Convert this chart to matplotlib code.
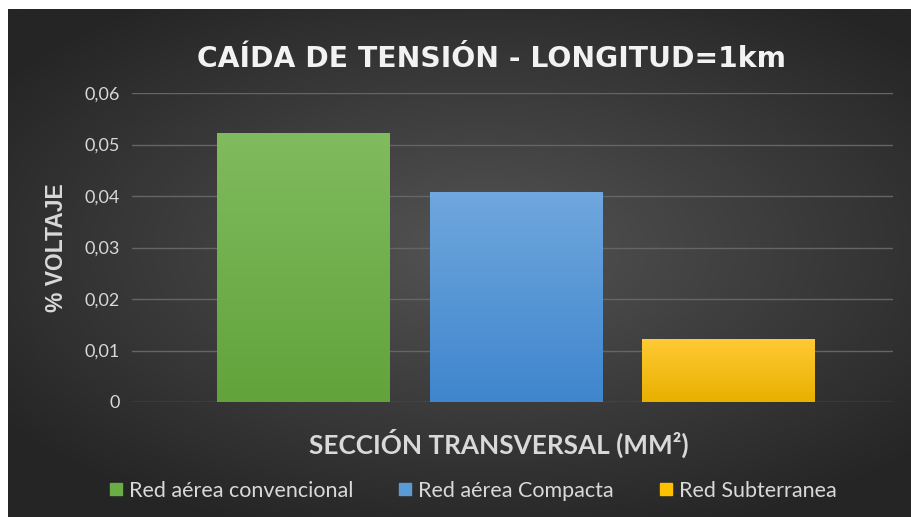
import numpy as np
import matplotlib
matplotlib.use("Agg")
import matplotlib.pyplot as plt
from matplotlib.lines import Line2D

series = ["Red aérea convencional", "Red aérea Compacta", "Red Subterranea"]
values = [0.0521, 0.0406, 0.0121]
yticks = [0, 0.01, 0.02, 0.03, 0.04, 0.05, 0.06]
ytick_labels = ["0", "0,01", "0,02", "0,03", "0,04", "0,05", "0,06"]
top_colors = ["#80bb5e", "#6fa7de", "#ffca33"]
bottom_colors = ["#62a33b", "#3f86cd", "#e9b000"]
legend_colors = ["#6aad45", "#5b9bd5", "#ffc000"]

calibri = ["Lato", "DejaVu Sans"]
txt = "#d9d9d9"

fig = plt.figure(figsize=(9.12, 5.17), dpi=100, facecolor="white")

# dark radial background
bg = fig.add_axes([8 / 912, 0, 904 / 912, 508 / 517])
bg.axis("off")
yy, xx = np.mgrid[-1:1:300j, -1:1:500j]
r = np.sqrt(((xx - 0.05) * 0.95) ** 2 + ((yy + 0.05) * 1.05) ** 2)
r = np.clip(r / 1.25, 0, 1)
c0, c1 = np.array([0x54, 0x54, 0x54]) / 255, np.array([0x25, 0x25, 0x25]) / 255
img = c0[None, None, :] * (1 - r[..., None]) + c1[None, None, :] * r[..., None]
bg.imshow(img, aspect="auto", extent=[0, 1, 0, 1])
bg.set_xlim(0, 1)
bg.set_ylim(0, 1)

ax = fig.add_axes([132 / 912, 1 - 402 / 517, 761 / 912, 309 / 517])
ax.patch.set_alpha(0)
x = np.arange(len(series)) - 1
width = 0.81

for i, v in enumerate(values):
    ct = np.array(matplotlib.colors.to_rgb(top_colors[i]))
    cb = np.array(matplotlib.colors.to_rgb(bottom_colors[i]))
    t = np.linspace(0, 1, 100)[:, None]
    grad = (ct * (1 - t) + cb * t)[:, None, :]
    ax.imshow(grad, aspect="auto", zorder=3,
              extent=[x[i] - width / 2, x[i] + width / 2, 0, v])

ax.set_xlim(-1.807, 1.774)
ax.set_ylim(0, 0.06)
ax.set_yticks(yticks)
ax.set_yticklabels(ytick_labels, family=calibri, fontsize=13, color=txt)
ax.set_xticks([])
ax.tick_params(axis="y", length=0, pad=9)
ax.grid(axis="y", color="#656565", linewidth=1, zorder=1)
ax.set_axisbelow(True)
for s in ax.spines.values():
    s.set_visible(False)

fig.text(492 / 912, 1 - 59 / 517, "CAÍDA DE TENSIÓN - LONGITUD=1km",
         ha="center", va="center", color="#f2f2f2", fontsize=20.3,
         fontweight="bold", family="DejaVu Sans")
fig.text(57 / 912, 1 - 248 / 517, "% VOLTAJE", rotation=90,
         ha="center", va="center", color=txt, fontsize=16.5,
         fontweight="bold", family=["Liberation Sans", "DejaVu Sans"])
fig.text(499 / 912, 1 - 443 / 517, "SECCIÓN TRANSVERSAL (MM²)",
         ha="center", va="center", color=txt, fontsize=18.8,
         fontweight="bold", family=calibri)

handles = [Line2D([], [], marker="s", linestyle="none", markersize=8,
                  markerfacecolor=c, markeredgecolor=c) for c in legend_colors]
fig.legend(handles, series, loc="center", ncol=3, frameon=False,
           bbox_to_anchor=(471 / 912, 1 - 491 / 517),
           prop={"family": calibri, "size": 15.5}, labelcolor=txt,
           handletextpad=0.1, columnspacing=1.9, handlelength=1)

fig.savefig("out.png", dpi=100, facecolor="white")
